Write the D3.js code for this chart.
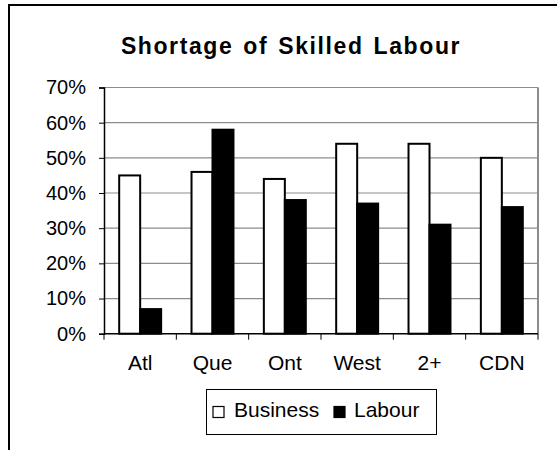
<!DOCTYPE html>
<html lang="en">
<head>
    <title>Shortage of Skilled Labour</title>
    <script src="https://d3js.org/d3.v7.min.js"></script>
    <style>
        body { margin: 0; background: #fff; }
        text { font-family: Arial, "Liberation Sans", sans-serif; fill: #000; }
    </style>
</head>
<body>
    <svg id="chart"></svg>

    <script>
        var categories = ["Atl", "Que", "Ont", "West", "2+", "CDN"];
        var seriesNames = ["Business", "Labour"];
        var business = [45, 46, 44, 54, 54, 50];
        var labour = [7, 58, 38, 37, 31, 36];
        var yTicks = [0, 10, 20, 30, 40, 50, 60, 70];

        var W = 557, H = 450;
        var plot = { left: 104, right: 538, top: 87.5, bottom: 333.7 };

        var svg = d3.select("#chart")
            .attr("width", W)
            .attr("height", H);

        // outer chart frame (runs off the bottom/right of the picture)
        svg.append("rect")
            .attr("x", 9).attr("y", 5)
            .attr("width", 700).attr("height", 600)
            .attr("fill", "#fff")
            .attr("stroke", "#000")
            .attr("stroke-width", 2);

        svg.append("text")
            .attr("x", 291)
            .attr("y", 54)
            .attr("text-anchor", "middle")
            .style("font-size", "23px")
            .style("font-weight", "bold")
            .style("letter-spacing", "1.6px")
            .style("word-spacing", "2px")
            .text("Shortage of Skilled Labour");

        var x0 = d3.scaleBand()
            .domain(categories)
            .range([plot.left, plot.right])
            .paddingInner(0.42)
            .paddingOuter(0.21);

        var x1 = d3.scaleBand()
            .domain(seriesNames)
            .range([0, x0.bandwidth()]);

        var y = d3.scaleLinear()
            .domain([0, 70])
            .range([plot.bottom, plot.top]);

        // gridlines
        svg.append("g")
            .selectAll("line")
            .data(yTicks.filter(function (d) { return d > 0; }))
            .enter().append("line")
            .attr("x1", plot.left).attr("x2", plot.right)
            .attr("y1", function (d) { return y(d); })
            .attr("y2", function (d) { return y(d); })
            .attr("stroke", "#8c8c8c")
            .attr("stroke-width", 1.2);

        // plot area right border
        svg.append("line")
            .attr("x1", plot.right).attr("x2", plot.right)
            .attr("y1", plot.top).attr("y2", plot.bottom)
            .attr("stroke", "#8c8c8c")
            .attr("stroke-width", 2);

        var rows = categories.map(function (c, i) {
            return { cat: c, values: [
                { name: "Business", value: business[i] },
                { name: "Labour", value: labour[i] }
            ] };
        });

        var groups = svg.append("g")
            .selectAll("g")
            .data(rows)
            .enter().append("g")
            .attr("transform", function (d) { return "translate(" + x0(d.cat) + ",0)"; });

        groups.selectAll("rect")
            .data(function (d) { return d.values; })
            .enter().append("rect")
            .attr("x", function (d) { return x1(d.name); })
            .attr("y", function (d) { return y(d.value); })
            .attr("width", x1.bandwidth())
            .attr("height", function (d) { return plot.bottom - y(d.value); })
            .attr("fill", function (d) { return d.name === "Business" ? "#fff" : "#000"; })
            .attr("stroke", "#000")
            .attr("stroke-width", 2);

        // y axis
        var yAxis = svg.append("g")
            .attr("transform", "translate(" + plot.left + ",0)")
            .call(d3.axisLeft(y)
                .tickValues(yTicks)
                .tickSize(5)
                .tickPadding(13)
                .tickFormat(function (d) { return d + "%"; }));
        yAxis.select(".domain").attr("stroke", "#000").attr("stroke-width", 1.5);
        yAxis.selectAll(".tick line").attr("stroke", "#000");
        yAxis.selectAll("text")
            .style("font-size", "20px")
            .style("font-family", "Arial, 'Liberation Sans', sans-serif");

        // x axis: ticks at category boundaries
        var bounds = categories.map(function (c) { return x0(c) - x0.step() * 0.21; });
        bounds.push(plot.right);
        var xAxis = svg.append("g");
        xAxis.append("line")
            .attr("x1", plot.left).attr("x2", plot.right)
            .attr("y1", plot.bottom).attr("y2", plot.bottom)
            .attr("stroke", "#000")
            .attr("stroke-width", 1.5);
        xAxis.selectAll(".xt")
            .data(bounds)
            .enter().append("line")
            .attr("class", "xt")
            .attr("x1", function (d) { return d; })
            .attr("x2", function (d) { return d; })
            .attr("y1", plot.bottom)
            .attr("y2", plot.bottom + 6)
            .attr("stroke", "#000");
        xAxis.selectAll("text")
            .data(categories)
            .enter().append("text")
            .attr("x", function (d) { return x0(d) + x0.bandwidth() / 2; })
            .attr("y", 370)
            .attr("text-anchor", "middle")
            .style("font-size", "21px")
            .text(function (d) { return d; });

        // legend
        var legend = svg.append("g");
        legend.append("rect")
            .attr("x", 206.5).attr("y", 389.5)
            .attr("width", 230).attr("height", 45)
            .attr("fill", "#fff")
            .attr("stroke", "#000")
            .attr("stroke-width", 1);
        var legendX = [213, 334];
        var textX = [234, 354];
        seriesNames.forEach(function (name, i) {
            legend.append("rect")
                .attr("x", legendX[i]).attr("y", 406.5)
                .attr("width", 11).attr("height", 11)
                .attr("fill", name === "Business" ? "#fff" : "#000")
                .attr("stroke", "#000")
                .attr("stroke-width", 1.2);
            legend.append("text")
                .attr("x", textX[i])
                .attr("y", 417)
                .style("font-size", "21px")
                .text(name);
        });
    </script>
</body>
</html>
